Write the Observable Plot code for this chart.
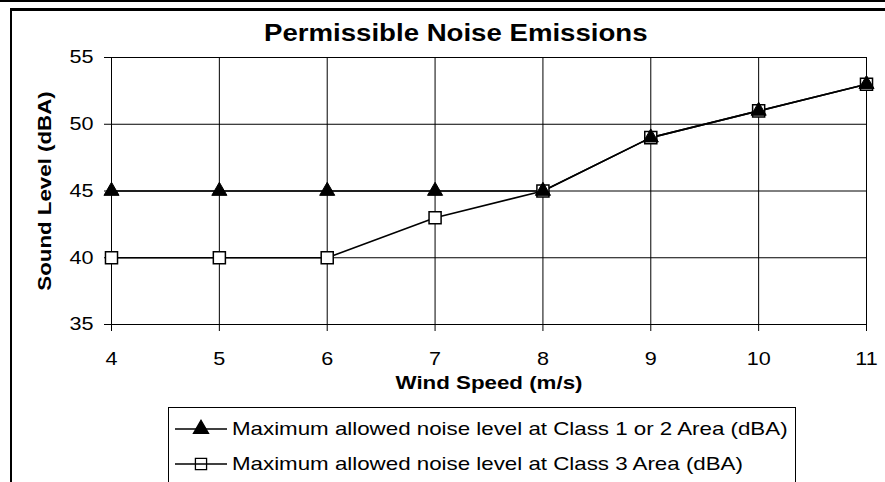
<!DOCTYPE html>
<html>
<head>
<meta charset="utf-8">
<script src="https://cdn.jsdelivr.net/npm/d3@7"></script>
<script src="https://cdn.jsdelivr.net/npm/@observablehq/plot@0.6"></script>
<style>
  html, body { margin: 0; padding: 0; background: #fff; }
  #wrap { position: relative; width: 885px; height: 482px; overflow: hidden; font-family: "Liberation Sans", Arial, sans-serif; }
  #topline { position: absolute; left: 0; top: 0; width: 885px; height: 2px; background: #000; }
  #frame { position: absolute; left: 10px; top: 8px; width: 900px; height: 500px; border-left: 2px solid #000; border-top: 3px solid #000; }
  #title { position: absolute; left: 0; width: 912px; top: 22px; line-height: 23px; text-align: center; font-weight: bold; font-size: 23px; }
  #title span { display: inline-block; transform: scaleX(1.2); transform-origin: center; }
  #chart { position: absolute; left: 0; top: 0; }
  #legend { position: absolute; left: 168px; top: 407px; width: 626px; height: 100px; border: 1px solid #000; background: #fff; }
  .lrow { position: absolute; left: 6px; height: 24px; display: flex; align-items: center; font-size: 18.6px; white-space: nowrap; }
  .lrow svg { margin-right: 5px; flex: none; }
  .lrow span { display: inline-block; transform: scaleX(1.2); transform-origin: left center; }
</style>
</head>
<body>
<div id="wrap">
  <div id="topline"></div>
  <div id="frame"></div>
  <div id="chart"></div>
  <div id="title"><span>Permissible Noise Emissions</span></div>
  <div id="legend"></div>
</div>
<script>
const windSpeed = [4, 5, 6, 7, 8, 9, 10, 11];
const class12 = [45, 45, 45, 45, 45, 49, 51, 53];
const class3 = [40, 40, 40, 43, 45, 49, 51, 53];
const seriesNames = [
  "Maximum allowed noise level at Class 1 or 2 Area (dBA)",
  "Maximum allowed noise level at Class 3 Area (dBA)"
];
const yTicks = [35, 40, 45, 50, 55];
const xTicks = [4, 5, 6, 7, 8, 9, 10, 11];
const xTitle = "Wind Speed (m/s)";
const yTitle = "Sound Level (dBA)";

const d12 = windSpeed.map((x, i) => ({x, y: class12[i]}));
const d3s = windSpeed.map((x, i) => ({x, y: class3[i]}));

const chart = Plot.plot({
  width: 885,
  height: 482,
  marginLeft: 111,
  marginRight: 19,
  marginTop: 57,
  marginBottom: 158,
  style: {fontFamily: "'Liberation Sans', Arial, sans-serif", fontSize: "18px", background: "transparent", color: "#000"},
  x: {domain: [4, 11]},
  y: {domain: [35, 55]},
  marks: [
    Plot.gridX(xTicks, {stroke: "#000", strokeOpacity: 1, strokeWidth: 1}),
    Plot.gridY(yTicks, {stroke: "#000", strokeOpacity: 1, strokeWidth: 1}),
    Plot.axisX(xTicks, {tickSize: 7, tickPadding: 21, label: null, stroke: "#000", strokeWidth: 1, fontSize: 18, tickFormat: d => String(d)}),
    Plot.axisY(yTicks, {tickSize: 7, tickPadding: 11, label: null, stroke: "#000", strokeWidth: 1, fontSize: 18}),
    Plot.text([xTitle], {frameAnchor: "bottom", dy: 64, fontWeight: "bold", fontSize: 18.6}),
    Plot.text([yTitle], {frameAnchor: "left", textAnchor: "middle", dx: -66, dy: 0, rotate: -90, fontWeight: "bold", fontSize: 18.6}),
    Plot.line(d3s, {x: "x", y: "y", stroke: "#000", strokeWidth: 1.6}),
    Plot.line(d12, {x: "x", y: "y", stroke: "#000", strokeWidth: 1.6}),
    Plot.dot(d3s, {x: "x", y: "y", symbol: "square", r: 6.8, fill: "#fff", stroke: "#000", strokeWidth: 1.5}),
    Plot.dot(d12, {x: "x", y: "y", symbol: "triangle", r: 5.6, fill: "#000", stroke: "#000", strokeWidth: 1})
  ]
});
// the reference's lettering is horizontally stretched; widen each text about its anchor
chart.querySelectorAll("text").forEach(t => {
  const tr = t.getAttribute("transform");
  if (tr) t.setAttribute("transform", tr + " scale(1.2,1)");
  else {
    const x = +(t.getAttribute("x") || 0), y = +(t.getAttribute("y") || 0);
    t.setAttribute("transform", `translate(${x},${y}) scale(1.2,1) translate(${-x},${-y})`);
  }
});
document.getElementById("chart").appendChild(chart);

// legend
const legend = document.getElementById("legend");
const tri = d3.symbol(d3.symbolTriangle, 5.6 * 5.6 * Math.PI)();
const sq = d3.symbol(d3.symbolSquare, 6.3 * 6.3 * Math.PI)();
[[seriesNames[0], tri, "#000", 9], [seriesNames[1], sq, "none", 44]].forEach(([name, path, fill, top]) => {
  const row = document.createElement("div");
  row.className = "lrow";
  row.style.top = top + "px";
  row.innerHTML = `<svg width="52" height="24"><line x1="0" x2="52" y1="12" y2="12" stroke="#000" stroke-width="1.5"/><path d="${path}" transform="translate(26,12)" fill="${fill}" stroke="#000" stroke-width="1.3"/></svg><span>${name}</span>`;
  legend.appendChild(row);
});
</script>
</body>
</html>
